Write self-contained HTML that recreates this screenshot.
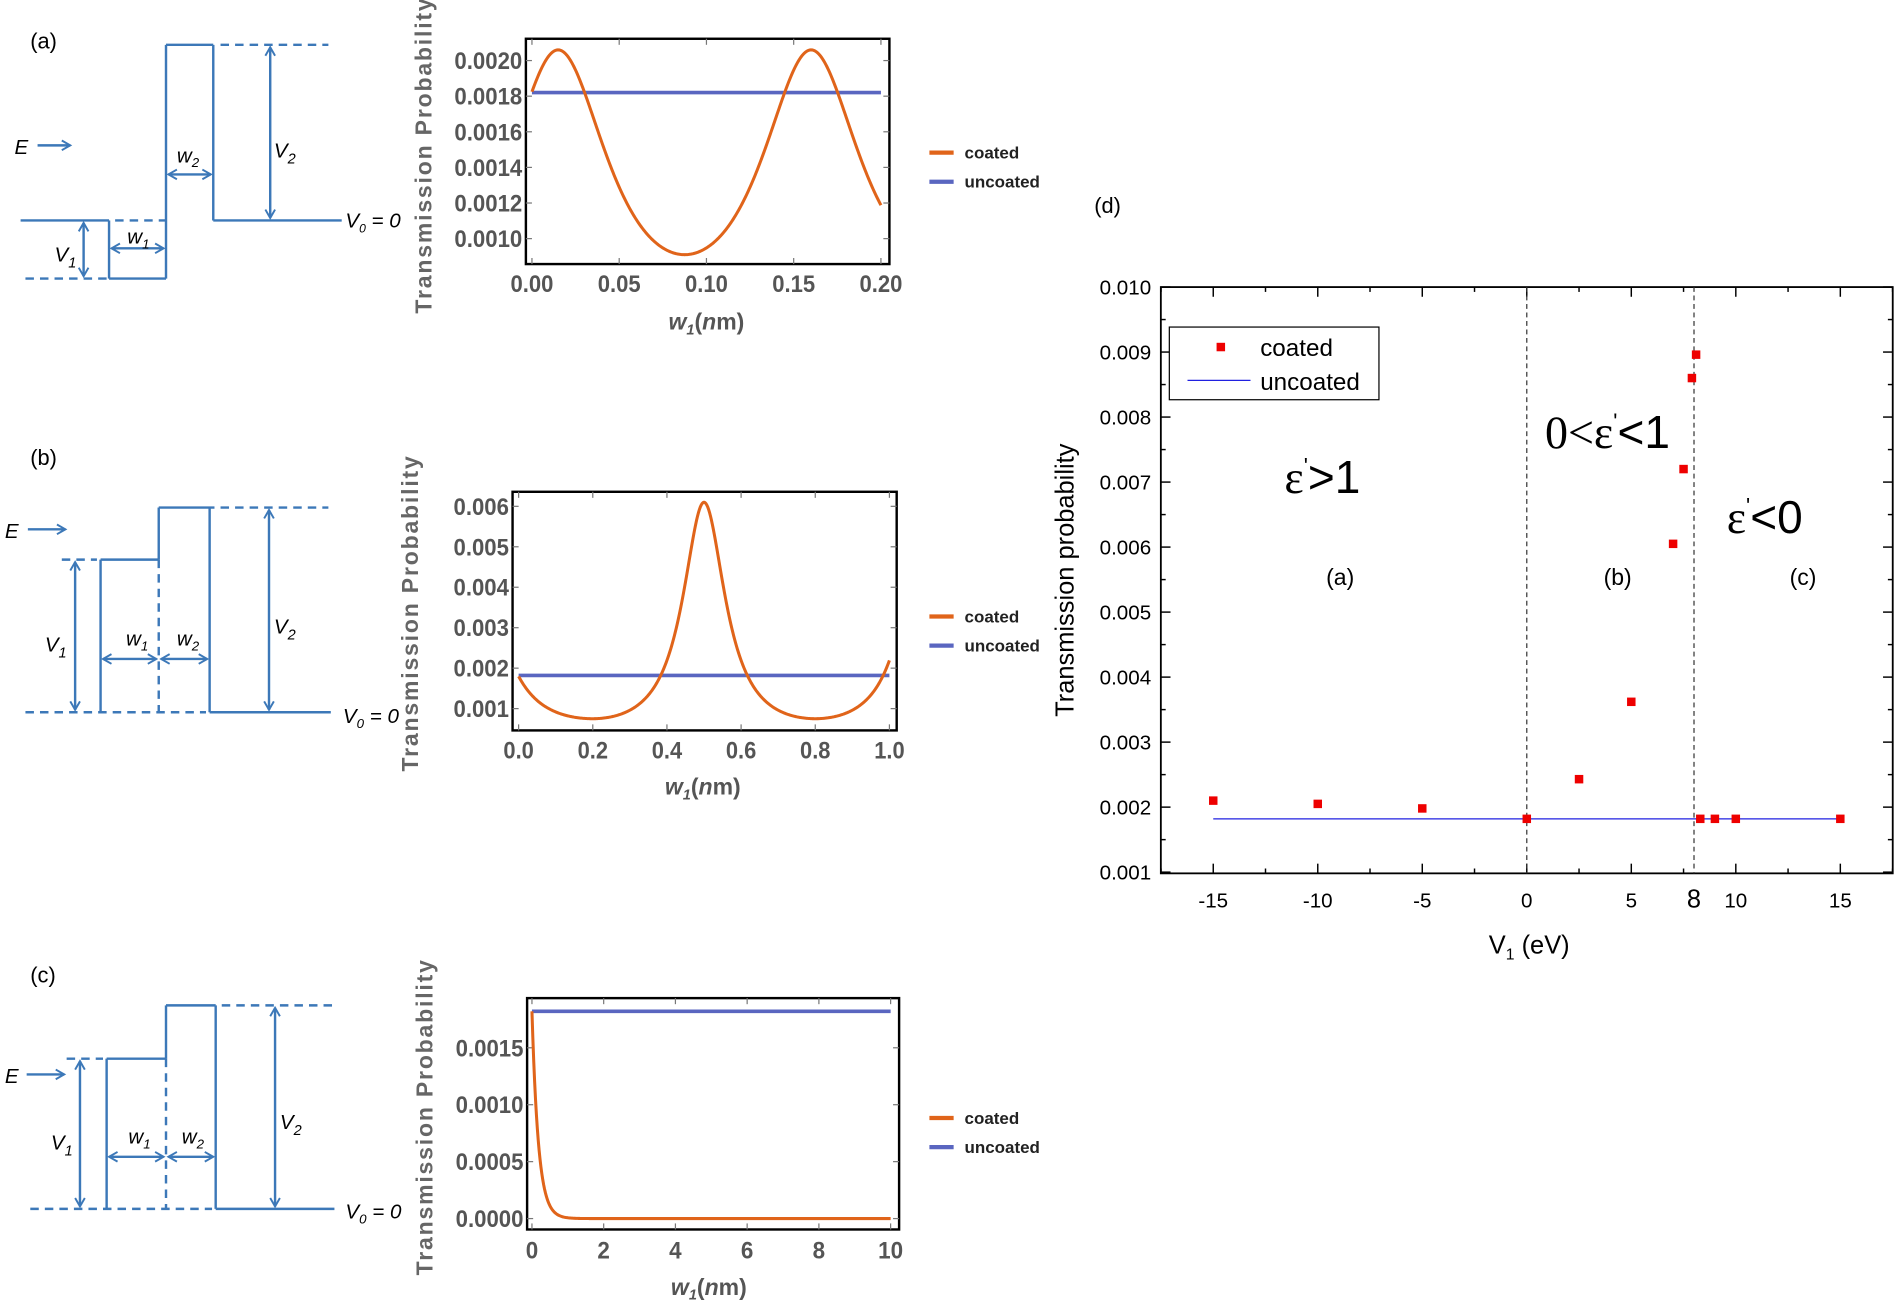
<!DOCTYPE html>
<html><head><meta charset="utf-8"><style>
html,body{margin:0;padding:0;background:#fff;}
svg{display:block;}
text{font-family:"Liberation Sans",sans-serif;}
.s{stroke:#3c78b8;stroke-width:2;fill:none;}
.d{stroke:#3c78b8;stroke-width:2;fill:none;stroke-dasharray:7,5;}
.sl{font-family:"Liberation Sans",sans-serif;font-style:italic;fill:#000;font-size:17px;}
.tk{font-weight:bold;fill:#555;font-size:20px;}
.lg{font-weight:bold;fill:#222;font-size:14px;}
</style></head><body>
<svg id="g" width="1900" height="1307" viewBox="0 0 1568 1079" preserveAspectRatio="none" xmlns="http://www.w3.org/2000/svg">
<defs>
<marker id="ah" markerWidth="10" markerHeight="10" refX="8" refY="5" orient="auto-start-reverse" markerUnits="userSpaceOnUse"><path d="M1,1 L8,5 L1,9" fill="none" stroke="#3c78b8" stroke-width="1.6"/></marker>
</defs>

<!-- Schematic (a) -->
<text x="25" y="40" font-size="18">(a)</text>
<line class="s" x1="137" y1="37" x2="176" y2="37"/><line class="d" x1="182" y1="37" x2="271" y2="37"/>
<line class="s" x1="137" y1="37" x2="137" y2="230"/><line class="s" x1="176" y1="37" x2="176" y2="182"/>
<line class="s" x1="17" y1="182" x2="90" y2="182"/><line class="d" x1="95" y1="182" x2="137" y2="182"/><line class="s" x1="176" y1="182" x2="282" y2="182"/>
<line class="s" x1="90" y1="182" x2="90" y2="230"/><line class="s" x1="90" y1="230" x2="137" y2="230"/><line class="d" x1="21" y1="230" x2="88" y2="230"/>
<line class="s" x1="69" y1="184" x2="69" y2="228" marker-start="url(#ah)" marker-end="url(#ah)"/>
<line class="s" x1="92" y1="205" x2="135" y2="205" marker-start="url(#ah)" marker-end="url(#ah)"/>
<line class="s" x1="139" y1="144" x2="174" y2="144" marker-start="url(#ah)" marker-end="url(#ah)"/>
<line class="s" x1="223" y1="39" x2="223" y2="180" marker-start="url(#ah)" marker-end="url(#ah)"/>
<line class="s" x1="31" y1="120" x2="58" y2="120" marker-end="url(#ah)"/>
<text class="sl" x="12" y="127">E</text>
<text class="sl" x="45" y="216">V<tspan font-size="12" dy="5">1</tspan></text>
<text class="sl" x="105" y="201" font-size="15">w<tspan font-size="11" dy="4">1</tspan></text>
<text class="sl" x="146" y="134" font-size="15">w<tspan font-size="11" dy="4">2</tspan></text>
<text class="sl" x="226" y="130">V<tspan font-size="12" dy="5">2</tspan></text>
<text class="sl" x="285" y="188" font-size="15">V<tspan font-size="10" dy="4">0</tspan><tspan dy="-4"> = 0</tspan></text>

<!-- Schematic (b) -->
<text x="25" y="384" font-size="18">(b)</text>
<line class="s" x1="131" y1="419" x2="177" y2="419"/><line class="d" x1="182" y1="419" x2="271" y2="419"/>
<line class="d" x1="51" y1="462" x2="80" y2="462"/><line class="s" x1="83" y1="462" x2="131" y2="462"/>
<line class="d" x1="21" y1="588" x2="170" y2="588"/><line class="s" x1="173" y1="588" x2="273" y2="588"/>
<line class="s" x1="83" y1="462" x2="83" y2="588"/><line class="d" x1="131" y1="462" x2="131" y2="588"/><line class="s" x1="131" y1="419" x2="131" y2="462"/>
<line class="s" x1="173" y1="419" x2="173" y2="588"/>
<line class="s" x1="62" y1="464" x2="62" y2="586" marker-start="url(#ah)" marker-end="url(#ah)"/>
<line class="s" x1="85" y1="544" x2="129" y2="544" marker-start="url(#ah)" marker-end="url(#ah)"/>
<line class="s" x1="133" y1="544" x2="171" y2="544" marker-start="url(#ah)" marker-end="url(#ah)"/>
<line class="s" x1="222" y1="421" x2="222" y2="586" marker-start="url(#ah)" marker-end="url(#ah)"/>
<line class="s" x1="23" y1="437" x2="54" y2="437" marker-end="url(#ah)"/>
<text class="sl" x="4" y="444">E</text>
<text class="sl" x="37" y="538">V<tspan font-size="12" dy="5">1</tspan></text>
<text class="sl" x="104" y="533" font-size="15">w<tspan font-size="11" dy="4">1</tspan></text>
<text class="sl" x="146" y="533" font-size="15">w<tspan font-size="11" dy="4">2</tspan></text>
<text class="sl" x="226" y="523">V<tspan font-size="12" dy="5">2</tspan></text>
<text class="sl" x="283" y="597" font-size="15">V<tspan font-size="11" dy="4">0</tspan><tspan dy="-4"> = 0</tspan></text>

<!-- Schematic (c) -->
<text x="25" y="811" font-size="18">(c)</text>
<line class="s" x1="137" y1="830" x2="178" y2="830"/><line class="d" x1="183" y1="830" x2="274" y2="830"/>
<line class="d" x1="55" y1="874" x2="85" y2="874"/><line class="s" x1="88" y1="874" x2="137" y2="874"/>
<line class="d" x1="25" y1="998" x2="175" y2="998"/><line class="s" x1="178" y1="998" x2="276" y2="998"/>
<line class="s" x1="88" y1="874" x2="88" y2="998"/><line class="d" x1="137" y1="874" x2="137" y2="998"/><line class="s" x1="137" y1="830" x2="137" y2="874"/>
<line class="s" x1="178" y1="830" x2="178" y2="998"/>
<line class="s" x1="66" y1="876" x2="66" y2="996" marker-start="url(#ah)" marker-end="url(#ah)"/>
<line class="s" x1="90" y1="955" x2="135" y2="955" marker-start="url(#ah)" marker-end="url(#ah)"/>
<line class="s" x1="139" y1="955" x2="176" y2="955" marker-start="url(#ah)" marker-end="url(#ah)"/>
<line class="s" x1="227" y1="832" x2="227" y2="996" marker-start="url(#ah)" marker-end="url(#ah)"/>
<line class="s" x1="22" y1="887" x2="53" y2="887" marker-end="url(#ah)"/>
<text class="sl" x="4" y="894">E</text>
<text class="sl" x="42" y="949">V<tspan font-size="12" dy="5">1</tspan></text>
<text class="sl" x="106" y="944" font-size="15">w<tspan font-size="11" dy="4">1</tspan></text>
<text class="sl" x="150" y="944" font-size="15">w<tspan font-size="11" dy="4">2</tspan></text>
<text class="sl" x="231" y="932">V<tspan font-size="12" dy="5">2</tspan></text>
<text class="sl" x="285" y="1006" font-size="15">V<tspan font-size="11" dy="4">0</tspan><tspan dy="-4"> = 0</tspan></text>

<g id="plots"></g>

<!-- Panel d -->
<text x="903" y="176" font-size="18">(d)</text>
<g id="pd"></g>
</svg>
<script>
var NS="http://www.w3.org/2000/svg";
function el(p,t,a,txt){var e=document.createElementNS(NS,t);for(var k in a)e.setAttribute(k,a[k]);if(txt!==undefined)e.textContent=txt;p.appendChild(e);return e;}
function tw(s){var w=0;for(var i=0;i<s.length;i++)w+=(s[i]=='.')?4.5:10.3;return w;}
var P=document.getElementById('plots');
function mplot(o){
 el(P,'rect',{x:o.fx0,y:o.fy0,width:o.fx1-o.fx0,height:o.fy1-o.fy0,fill:'none',stroke:'#000','stroke-width':2});
 o.xt.forEach(function(t){var x=o.X(t);var s=o.xf(t);el(P,'text',{x:x,y:o.xly,'text-anchor':'middle','class':'tk',textLength:tw(s),lengthAdjust:'spacingAndGlyphs'},s);
   el(P,'line',{x1:x,y1:o.fy1,x2:x,y2:o.fy1-5,stroke:'#777','stroke-width':1});el(P,'line',{x1:x,y1:o.fy0,x2:x,y2:o.fy0+5,stroke:'#777','stroke-width':1});});
 o.yt.forEach(function(t){var y=o.Y(t);var s=o.yf(t);el(P,'text',{x:o.fx0-3,y:y+7,'text-anchor':'end','class':'tk',textLength:tw(s),lengthAdjust:'spacingAndGlyphs'},s);
   el(P,'line',{x1:o.fx0,y1:y,x2:o.fx0+5,y2:y,stroke:'#777','stroke-width':1});el(P,'line',{x1:o.fx1,y1:y,x2:o.fx1-5,y2:y,stroke:'#777','stroke-width':1});});
 el(P,'line',{x1:o.X(o.xmin),y1:o.Y(0.00182),x2:o.X(o.xmax),y2:o.Y(0.00182),stroke:'#5a66c0','stroke-width':3});
 var d='';for(var i=0;i<=400;i++){var x=o.xmin+(o.xmax-o.xmin)*i/400;d+=(i?'L':'M')+o.X(x).toFixed(2)+','+o.Y(o.f(x)).toFixed(2);}
 el(P,'path',{d:d,fill:'none',stroke:'#e0641a','stroke-width':2.5});
 el(P,'text',{x:0,y:0,transform:'translate('+(o.fx0-78)+','+o.ycy+') rotate(-90)','text-anchor':'middle','font-weight':'bold',fill:'#666','font-size':'19px','letter-spacing':'1.5'},'Transmission Probability');
 var xl=el(P,'text',{x:o.xlx,y:o.xlabely,'text-anchor':'middle','font-weight':'bold',fill:'#555','font-size':'19px'});
 el(xl,'tspan',{'font-style':'italic'},'w');el(xl,'tspan',{'font-style':'italic','font-size':'12px',dy:4},'1');el(xl,'tspan',{dy:-4},'(');el(xl,'tspan',{'font-style':'italic'},'n');el(xl,'tspan',{},'m)');
 el(P,'line',{x1:767,y1:o.lg1,x2:787,y2:o.lg1,stroke:'#e0641a','stroke-width':3.5});
 el(P,'line',{x1:767,y1:o.lg1+24,x2:787,y2:o.lg1+24,stroke:'#5a66c0','stroke-width':3.5});
 el(P,'text',{x:796,y:o.lg1+5,'class':'lg'},'coated');el(P,'text',{x:796,y:o.lg1+29,'class':'lg'},'uncoated');
}
mplot({fx0:434,fx1:734,fy0:32,fy1:218,xmin:0,xmax:0.2,X:function(x){return 439+x*(727-439)/0.2;},
 Y:function(y){return 197-(y-0.001)/0.0002*29.4;},xt:[0,0.05,0.1,0.15,0.2],xf:function(t){return t.toFixed(2);},
 yt:[0.001,0.0012,0.0014,0.0016,0.0018,0.002],yf:function(t){return t.toFixed(4);},xly:241,
 f:function(x){var s=Math.sin(Math.PI/0.145*(x-0.015));return 0.00206/(1+1.264*s*s);},ycy:128,xlx:583,xlabely:272,lg1:126});
mplot({fx0:423,fx1:740,fy0:406,fy1:603,xmin:0,xmax:1,X:function(x){return 428+x*306;},
 Y:function(y){return 585-(y-0.001)/0.001*33.4;},xt:[0,0.2,0.4,0.6,0.8,1],xf:function(t){return t.toFixed(1);},
 yt:[0.001,0.002,0.003,0.004,0.005,0.006],yf:function(t){return t.toFixed(3);},xly:626,
 f:function(x){var s=Math.sin(Math.PI/0.6*(x-0.5));var v=0.0061/(1+7.13*s*s);return v*(x<0.5?(1-0.18*Math.pow(1-x/0.2>0?1-x/0.2:0,2)):1);},ycy:506,xlx:580,xlabely:656,lg1:509});
mplot({fx0:435,fx1:742,fy0:824,fy1:1015,xmin:0,xmax:10,X:function(x){return 439+x*29.6;},
 Y:function(y){return 1006-y/0.0005*47;},xt:[0,2,4,6,8,10],xf:function(t){return ''+t;},
 yt:[0,0.0005,0.001,0.0015],yf:function(t){return t.toFixed(4);},xly:1039,
 f:function(x){return 0.00182*Math.exp(-x/0.18);},ycy:922,xlx:585,xlabely:1069,lg1:923});

var D=document.getElementById('pd');
function X(v){return 1260+v*17.25;}function Y(v){return 720-(v-0.001)/0.001*53.67;}
el(D,'rect',{x:958,y:237,width:604,height:484,fill:'none',stroke:'#000','stroke-width':1.5});
for(var v=-17.5;v<=17.5;v+=2.5){var x=X(v);var maj=Math.abs(v%5)<1e-9;var L=maj?8:4;
 el(D,'line',{x1:x,y1:721,x2:x,y2:721-L,stroke:'#000','stroke-width':1.2});el(D,'line',{x1:x,y1:237,x2:x,y2:237+L,stroke:'#000','stroke-width':1.2});}
[-15,-10,-5,0,5,10,15].forEach(function(v){el(D,'text',{x:X(v),y:749,'text-anchor':'middle','font-size':'17px'},''+v);});
el(D,'text',{x:X(8),y:749,'text-anchor':'middle','font-size':'21px'},'8');
for(var k=0;k<=18;k++){var yv=0.001+k*0.0005;var y=Y(yv);var maj=k%2==0;var L=maj?8:4;
 el(D,'line',{x1:958,y1:y,x2:958+L,y2:y,stroke:'#000','stroke-width':1.2});el(D,'line',{x1:1562,y1:y,x2:1562-L,y2:y,stroke:'#000','stroke-width':1.2});
 if(maj)el(D,'text',{x:950,y:y+6,'text-anchor':'end','font-size':'17px'},yv.toFixed(3));}
el(D,'line',{x1:X(0),y1:237,x2:X(0),y2:721,stroke:'#333','stroke-width':1,'stroke-dasharray':'4,3'});
el(D,'line',{x1:X(8),y1:237,x2:X(8),y2:721,stroke:'#333','stroke-width':1,'stroke-dasharray':'4,3'});
el(D,'line',{x1:X(-15),y1:Y(0.00182),x2:X(15),y2:Y(0.00182),stroke:'#2020e0','stroke-width':1});
[[-15,0.0021],[-10,0.00205],[-5,0.00198],[0,0.00182],[2.5,0.00243],[5,0.00362],[7,0.00605],[7.5,0.0072],[7.9,0.0086],[8.1,0.00896],[8.3,0.00182],[9,0.00182],[10,0.00182],[15,0.00182]].forEach(function(p){
 el(D,'rect',{x:X(p[0])-3.5,y:Y(p[1])-3.5,width:7,height:7,fill:'#ee0000'});});
el(D,'rect',{x:965,y:270,width:173,height:60,fill:'#fff',stroke:'#000','stroke-width':1});
el(D,'rect',{x:1004,y:283,width:7,height:7,fill:'#ee0000'});
el(D,'line',{x1:980,y1:314,x2:1032,y2:314,stroke:'#2020e0','stroke-width':1});
el(D,'text',{x:1040,y:294,'font-size':'20px'},'coated');el(D,'text',{x:1040,y:322,'font-size':'20px'},'uncoated');
el(D,'text',{x:0,y:0,transform:'translate(886,479) rotate(-90)','text-anchor':'middle','font-size':'21px'},'Transmission probability');
var vl=el(D,'text',{x:1262,y:787,'text-anchor':'middle','font-size':'21px'});el(vl,'tspan',{},'V');el(vl,'tspan',{'font-size':'13px',dy:5},'1');el(vl,'tspan',{dy:-5},' (eV)');
var t1=el(D,'text',{x:1060,y:407,'font-size':'38px'});el(t1,'tspan',{'font-family':'Liberation Serif, serif'},'ε');el(t1,'tspan',{'font-size':'18px',dy:-16},'\'');el(t1,'tspan',{dy:16},'>1');
var t2=el(D,'text',{x:1275,y:370,'font-size':'38px'});el(t2,'tspan',{'font-family':'Liberation Serif, serif'},'0<ε');el(t2,'tspan',{'font-size':'18px',dy:-16},'\'');el(t2,'tspan',{dy:16},'<1');
var t3=el(D,'text',{x:1425,y:440,'font-size':'38px'});el(t3,'tspan',{'font-family':'Liberation Serif, serif'},'ε');el(t3,'tspan',{'font-size':'18px',dy:-16},'\'');el(t3,'tspan',{dy:16},'<0');
el(D,'text',{x:1106,y:483,'text-anchor':'middle','font-size':'19px'},'(a)');
el(D,'text',{x:1335,y:483,'text-anchor':'middle','font-size':'19px'},'(b)');
el(D,'text',{x:1488,y:483,'text-anchor':'middle','font-size':'19px'},'(c)');
</script>
</body></html>
